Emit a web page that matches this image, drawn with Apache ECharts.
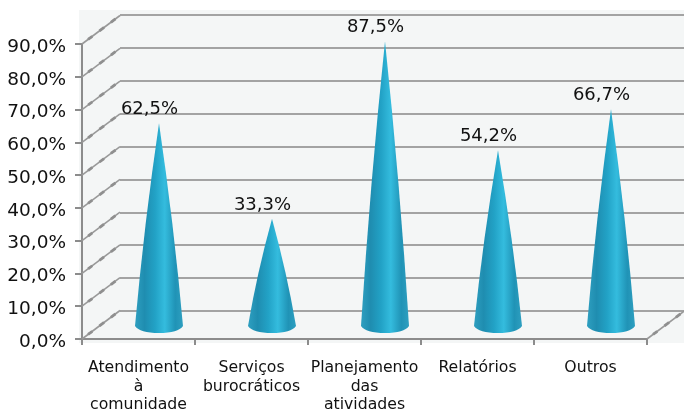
<!DOCTYPE html>
<html><head><meta charset="utf-8">
<style>html,body{margin:0;padding:0;background:#fff}#c{width:684px;height:411px}</style>
<script src="https://cdn.jsdelivr.net/npm/echarts@6/dist/echarts.min.js"></script>
</head><body><div id="c"></div>
<script>
const categories = ['Atendimento\nà\ncomunidade','Serviços\nburocráticos','Planejamento\ndas\natividades','Relatórios','Outros'];
const values = [62.5,33.3,87.5,54.2,66.7];
const tickValues = [0,10,20,30,40,50,60,70,80,90];
const fmt = v => v.toFixed(1).replace('.',',') + '%';
const FONT = '"DejaVu Sans"';
const GRID = '#a3a3a3', AX = '#8c8c8c';
const chart = echarts.init(document.getElementById('c'));
const coneFill = new echarts.graphic.LinearGradient(0,0,1,0,[
  {offset:0,color:'#2e9fc0'},{offset:0.2,color:'#1f8db0'},{offset:0.42,color:'#22a2c6'},
  {offset:0.62,color:'#34bcde'},{offset:0.84,color:'#2093b6'},{offset:1,color:'#2e9fc0'}]);
chart.setOption({
  animation:false,
  graphic:[{type:'rect',z:-1,silent:true,shape:{x:79,y:10,width:605,height:333},style:{fill:'#f4f6f6'}}],
  grid:[
    {left:82,right:37,top:44,bottom:72,outerBoundsMode:'none'},
    {left:120,right:0,top:15,bottom:100,outerBoundsMode:'none'}
  ],
  xAxis:[
    {type:'category',gridIndex:0,data:categories,
     axisLine:{lineStyle:{color:AX,width:2}},
     axisTick:{show:true,length:6,lineStyle:{color:AX,width:2}},
     axisLabel:{interval:0,margin:20,color:'#111',fontFamily:FONT,fontSize:15.7,lineHeight:18.4,verticalAlign:'top'}},
    {type:'category',gridIndex:1,data:categories,show:false}
  ],
  yAxis:[
    {type:'value',gridIndex:0,min:0,max:90,interval:10,
     axisLine:{show:true,lineStyle:{color:AX,width:2}},
     axisTick:{show:true,length:7,lineStyle:{color:AX,width:2}},
     splitLine:{show:false},
     axisLabel:{margin:16,color:'#111',fontFamily:FONT,fontSize:18.5,verticalAlign:'top',lineHeight:6,formatter:fmt}},
    {type:'value',gridIndex:1,min:0,max:90,interval:10,
     axisLine:{show:false},axisTick:{show:false},axisLabel:{show:false},
     splitLine:{show:true,lineStyle:{color:GRID,width:2}}}
  ],
  series:[
    {type:'custom',xAxisIndex:0,yAxisIndex:0,z:2,silent:true,data:tickValues,
     encode:{y:0},
     renderItem(p,api){
       const v=api.value(0);
       const c=api.coord([0,v]);
       const band=api.size([1,0])[0];
       const x0=c[0]-band/2, y0=c[1];
       const dx=38, dy=28.5;
       const depth=x=>[[0,1,1.6,'#999999'],[0.16,0.27,2.8,'#8f8f8f'],[0.46,0.58,2.8,'#8f8f8f'],[0.76,0.88,2.8,'#8f8f8f']]
         .map(([a,b,w,col])=>({type:'line',shape:{x1:x+dx*a,y1:y0-dy*a,x2:x+dx*b,y2:y0-dy*b},style:{stroke:col,lineWidth:w}}));
       const ch=depth(x0);
       if(v===0) ch.push(...depth(x0+band*categories.length));
       return {type:'group',children:ch};
     }},
    {type:'custom',xAxisIndex:0,yAxisIndex:0,z:5,silent:true,
     data:values.map((v,i)=>[i,v]),encode:{x:0,y:1},
     renderItem(p,api){
       const i=api.value(0), v=api.value(1);
       const top=api.coord([i,v]), base=api.coord([i,0]);
       const cx=top[0]+20.5, by=base[1]-11, ty=top[1]-11, r=24, k=5;
       const h=by-ty, b=3;
       const d=`M${cx} ${ty} Q${cx+r*0.5+b} ${ty+h*0.5} ${cx+r} ${by-2} Q${cx+r*0.8} ${by+k} ${cx} ${by+k} Q${cx-r*0.8} ${by+k} ${cx-r} ${by-2} Q${cx-r*0.5-b} ${ty+h*0.5} ${cx} ${ty} Z`;
       return {type:'group',children:[
         {type:'path',shape:{pathData:d,layout:'cover',x:cx-r,y:ty,width:2*r,height:by+k-ty},style:{fill:coneFill}},
         {type:'text',z2:10,style:{x:cx-9.5,y:ty-5,text:fmt(v),textAlign:'center',textVerticalAlign:'bottom',fill:'#111',font:'18px '+FONT}}
       ]};
     }}
  ]
});
</script></body></html>
